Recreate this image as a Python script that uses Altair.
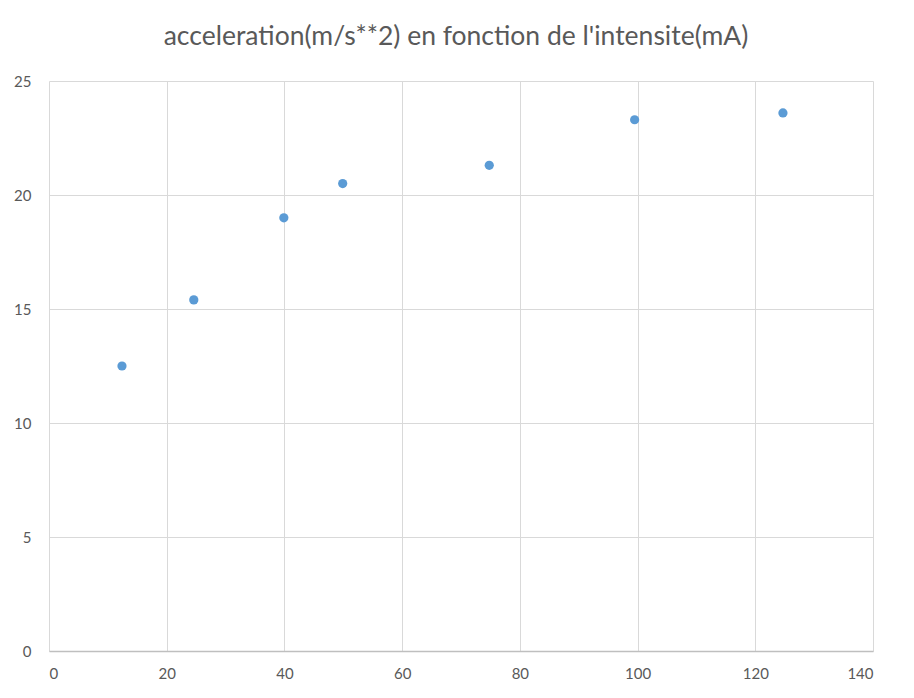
import altair as alt
import pandas as pd

intensite = [12.4, 24.6, 39.9, 49.9, 74.8, 99.5, 124.7]
acceleration = [12.5, 15.4, 19.0, 20.5, 21.3, 23.3, 23.6]

df = pd.DataFrame({"intensite": intensite, "acceleration": acceleration})

chart = alt.Chart(df).mark_circle(size=85, color="#5b9bd5", opacity=1).encode(
    x=alt.X("intensite:Q", scale=alt.Scale(domain=[0, 140], nice=False),
            axis=alt.Axis(values=[0, 20, 40, 60, 80, 100, 120, 140], title=None,
                          domain=True, domainColor="#bfbfbf", domainWidth=1.5,
                          ticks=False, labelPadding=15, grid=True)),
    y=alt.Y("acceleration:Q", scale=alt.Scale(domain=[0, 25], nice=False),
            axis=alt.Axis(values=[0, 5, 10, 15, 20, 25], title=None, domain=False,
                          ticks=False, labelPadding=18, grid=True)),
).properties(
    width=824, height=570,
    padding={"left": 41, "top": 73, "right": 33, "bottom": 39},
    autosize=alt.AutoSizeParams(type="none"),
    title=alt.TitleParams("acceleration(m/s**2) en fonction de l'intensite(mA)",
                          fontSize=26.5, font="Lato", fontWeight="normal",
                          color="#595959", anchor="middle", dx=-5, offset=24),
).configure_axis(
    gridColor="#d9d9d9", gridWidth=1, labelColor="#595959", labelFontSize=15,
    labelFont="Lato",
).configure_view(stroke=None)

chart.save("out.html", embed_options={"renderer": "svg", "actions": False})
